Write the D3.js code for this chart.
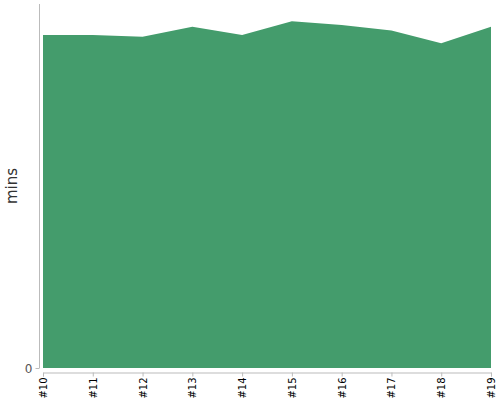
<!DOCTYPE html>
<html>
<head>
<meta charset="utf-8">
<script src="https://cdn.jsdelivr.net/npm/d3@7"></script>
<style>
body { margin: 0; background: #fff; }
svg { display: block; font-family: "DejaVu Sans", sans-serif; }
.axis path, .axis line { stroke: #bbb; }
</style>
</head>
<body>
<div id="chart"></div>
<script>
var builds = ["#10","#11","#12","#13","#14","#15","#16","#17","#18","#19"];
var mins = [36.6, 36.6, 36.4, 37.5, 36.6, 38.1, 37.7, 37.1, 35.7, 37.5];
var y_ticks = [0];

var width = 500, height = 400;
var x0 = 43, x1 = 491, y0 = 368, y1 = 4;

var svg = d3.select("#chart").append("svg")
	.attr("width", width).attr("height", height);

var x = d3.scalePoint().domain(builds).range([x0, x1]);
var y = d3.scaleLinear().domain([0, 40]).range([y0, y1]);

var area = d3.area()
	.x(function (d, i) { return x(builds[i]); })
	.y0(y(0))
	.y1(function (d) { return y(d); });

svg.append("path").datum(mins)
	.attr("d", area)
	.attr("fill", "#449c6c");

// y axis
var yAxis = svg.append("g").attr("class", "axis")
	.attr("transform", "translate(39.5,0)")
	.call(d3.axisLeft(y).tickValues(y_ticks).tickSizeOuter(0).tickSize(4))
	.attr("font-family", "DejaVu Sans");
yAxis.select(".domain").attr("d", "M0," + y1 + "V" + y0);
yAxis.selectAll("text").attr("fill", "#555").style("font-size", "12px").attr("dy", "0.4em");

// x axis
var xAxis = svg.append("g").attr("class", "axis")
	.attr("transform", "translate(0,372.5)")
	.call(d3.axisBottom(x).tickSizeOuter(0).tickSize(4))
	.attr("font-family", "DejaVu Sans");
xAxis.selectAll("text")
	.attr("fill", "#000")
	.style("font-size", "10px")
	.attr("transform", "rotate(-90)")
	.attr("x", -5).attr("y", 0).attr("dy", "0.35em")
	.style("text-anchor", "end");

svg.append("text")
	.attr("transform", "translate(17,186) rotate(-90)")
	.attr("text-anchor", "middle")
	.attr("fill", "#333")
	.style("font-size", "15px")
	.text("mins");
</script>
</body>
</html>
